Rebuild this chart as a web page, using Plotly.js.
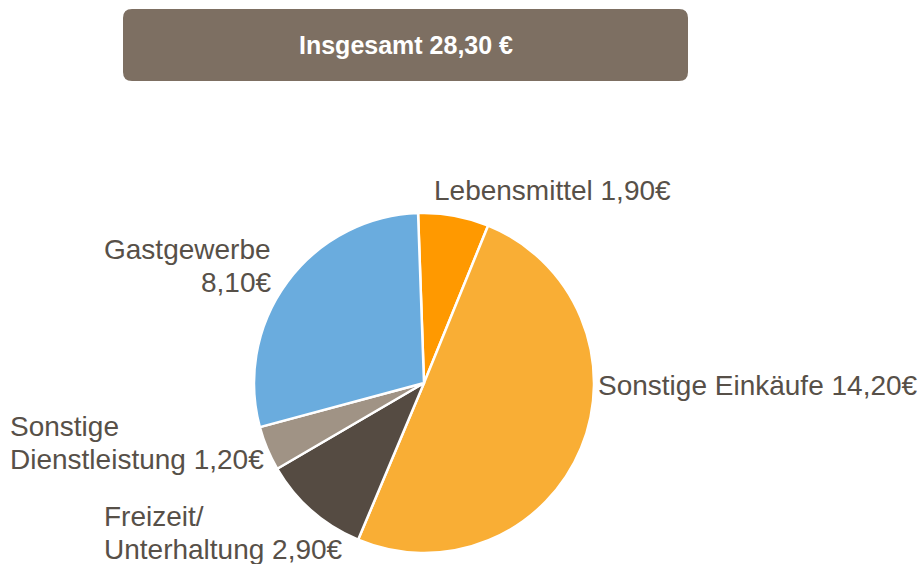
<!DOCTYPE html>
<html>
<head>
<meta charset="utf-8">
<script src="https://cdn.plot.ly/plotly-3.0.1.min.js"></script>
<style>html,body{margin:0;padding:0;background:#fff;}#chart{width:921px;height:564px;}</style>
</head>
<body>
<div id="chart"></div>
<script>
const categories = ["Lebensmittel", "Sonstige Einkäufe", "Freizeit/<br>Unterhaltung", "Sonstige<br>Dienstleistung", "Gastgewerbe<br>"];
const values = [1.90, 14.20, 2.90, 1.20, 8.10];
const colors = ["#FF9900", "#F9AE35", "#554B42", "#A09385", "#6AACDE"];
const totalLabel = "Insgesamt";

const W = 921, H = 564;
const px = x => x / W;
const py = y => 1 - y / H;
const fmt = v => v.toFixed(2).replace(".", ",");
const total = values.reduce((a, b) => a + b, 0);

// pie geometry (pixels)
const cx = 424, cy = 383, r = 170;

const labelPos = [
  {x: 432, y: 190, xa: "left"},
  {x: 596, y: 385, xa: "left"},
  {x: 102, y: 533, xa: "left"},
  {x: 8, y: 443, xa: "left"},
  {x: 273, y: 266, xa: "right"}
];
const lineGap = 33;

const labelFont = {family: "Liberation Sans, Arial, sans-serif", size: 28, color: "#575048"};

const annotations = [];
categories.forEach((c, i) => {
  const full = c + (c.endsWith("<br>") ? "" : " ") + fmt(values[i]) + "€";
  const lines = full.split("<br>");
  lines.forEach((ln, k) => {
    annotations.push({
      xref: "paper", yref: "paper",
      x: px(labelPos[i].x),
      y: py(labelPos[i].y + (k - (lines.length - 1) / 2) * lineGap),
      xanchor: labelPos[i].xa, yanchor: "middle",
      text: ln, showarrow: false, font: labelFont
    });
  });
});

annotations.push({
  xref: "paper", yref: "paper",
  x: px(405.5), y: py(45), xanchor: "center", yanchor: "middle",
  text: "<b>" + totalLabel + " " + fmt(total) + " €</b>",
  showarrow: false,
  font: {family: "Liberation Sans, Arial, sans-serif", size: 25, color: "#ffffff"}
});

// rounded rectangle for title box
const bx0 = 123, bx1 = 688, by0 = 9, by1 = 81, rr = 9;
const path = [
  `M ${px(bx0 + rr)} ${py(by0)}`,
  `L ${px(bx1 - rr)} ${py(by0)}`,
  `Q ${px(bx1)} ${py(by0)} ${px(bx1)} ${py(by0 + rr)}`,
  `L ${px(bx1)} ${py(by1 - rr)}`,
  `Q ${px(bx1)} ${py(by1)} ${px(bx1 - rr)} ${py(by1)}`,
  `L ${px(bx0 + rr)} ${py(by1)}`,
  `Q ${px(bx0)} ${py(by1)} ${px(bx0)} ${py(by1 - rr)}`,
  `L ${px(bx0)} ${py(by0 + rr)}`,
  `Q ${px(bx0)} ${py(by0)} ${px(bx0 + rr)} ${py(by0)}`,
  "Z"
].join(" ");

const data = [{
  type: "pie",
  labels: categories,
  values: values,
  sort: false,
  direction: "clockwise",
  rotation: -2,
  textinfo: "none",
  hoverinfo: "label+value",
  marker: {colors: colors, line: {color: "#ffffff", width: 2.5}},
  domain: {x: [px(cx - r), px(cx + r)], y: [py(cy + r), py(cy - r)]},
  showlegend: false
}];

const layout = {
  width: W, height: H,
  margin: {l: 0, r: 0, t: 0, b: 0},
  paper_bgcolor: "#ffffff",
  showlegend: false,
  shapes: [{type: "path", xref: "paper", yref: "paper", path: path, fillcolor: "#7D6F62", line: {width: 0}}],
  annotations: annotations
};

Plotly.newPlot("chart", data, layout, {displayModeBar: false, staticPlot: true});
</script>
</body>
</html>
